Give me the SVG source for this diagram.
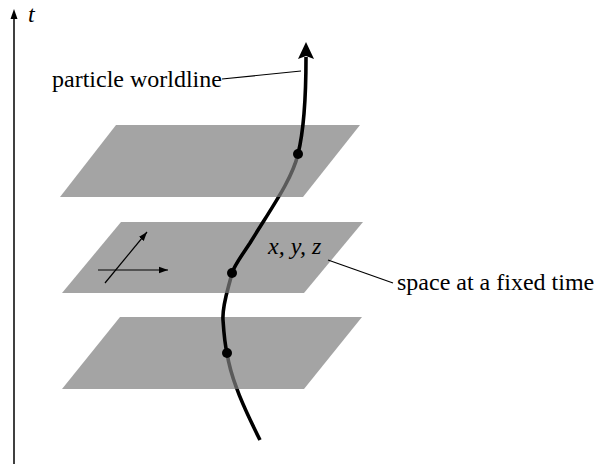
<svg xmlns="http://www.w3.org/2000/svg" width="594" height="464" viewBox="0 0 594 464">
<style>
.lbl{font-family:"Liberation Serif","Times New Roman",serif;font-size:24px;fill:#000}
.it{font-style:italic}
.plane{fill:#a4a4a4}
.thin{stroke:#000;stroke-width:1.2;fill:none}
.wl{fill:none;stroke-width:3.6;stroke-linecap:butt}
</style>
<defs>
<marker id="ah" markerWidth="10" markerHeight="8" refX="9" refY="4" orient="auto" markerUnits="userSpaceOnUse">
<path d="M0,0.8 L9,4 L0,7.2 Z" fill="#000"/>
</marker>
<clipPath id="front">
<rect x="0" y="0" width="594" height="154"/>
<rect x="0" y="197" width="594" height="76"/>
<rect x="0" y="293" width="594" height="60"/>
<rect x="0" y="389" width="594" height="75"/>
</clipPath>
<clipPath id="behind">
<rect x="0" y="154" width="594" height="43"/>
<rect x="0" y="273" width="594" height="20"/>
<rect x="0" y="353" width="594" height="36"/>
</clipPath>
<path id="curve" d="M306,57 C306,95 304,130 298,154 C292,180 270,210 250,243 C240,258 234,266 232,273 C228,290 222,305 223,320 C224,335 225,345 227,353 C231,380 245,410 260,440"/>
</defs>

<g id="time-axis">
<line x1="14" y1="16" x2="14" y2="464" stroke="#000" stroke-width="1.5"/>
<path d="M14,9 L17.5,19 L10.5,19 Z" fill="#000"/>
<text class="lbl it" x="28" y="22" font-size="20">t</text>
</g>

<g id="plane-top">
<polygon class="plane" points="116,125 360,125 303,197 60,197"/>
</g>
<g id="plane-middle">
<polygon class="plane" points="121,222 363,222 304,293 62,293"/>
<text class="lbl it" x="268" y="254">x, y, z</text>
<line class="thin" x1="98" y1="270" x2="168" y2="270" marker-end="url(#ah)"/>
<line class="thin" x1="105" y1="283" x2="147" y2="232" marker-end="url(#ah)"/>
</g>
<g id="plane-bottom">
<polygon class="plane" points="120,317 362,317 304,389 62,389"/>
</g>

<g id="worldline">
<use href="#curve" class="wl" stroke="#000" clip-path="url(#front)"/>
<use href="#curve" class="wl" stroke="#5a5a5a" stroke-width="2.6" clip-path="url(#behind)"/>
<path d="M306,42 L314,59 L306,56 L298,59 Z" fill="#000"/>
<circle cx="298" cy="154" r="5" fill="#000"/>
<circle cx="232" cy="273" r="5" fill="#000"/>
<circle cx="227" cy="353" r="5" fill="#000"/>
</g>

<g id="labels">
<text class="lbl" x="52" y="87">particle worldline</text>
<text class="lbl" x="397" y="290">space at a fixed time</text>
</g>

<g id="connectors">
<line class="thin" x1="222" y1="79" x2="301" y2="71"/>
<line class="thin" x1="328" y1="260" x2="393" y2="283"/>
</g>
</svg>
